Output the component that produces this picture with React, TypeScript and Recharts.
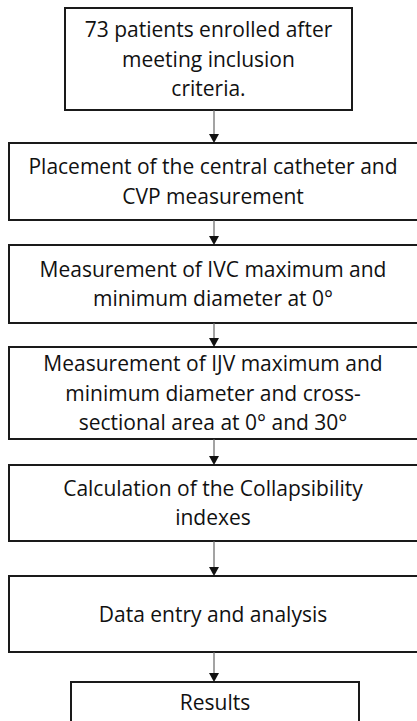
import React from 'react';
import { ComposedChart, XAxis, YAxis, ReferenceArea, ReferenceLine } from 'recharts';

// flowchart steps, top to bottom
const stepLines: string[][] = [
    ['73 patients enrolled after', 'meeting inclusion', 'criteria.'],
    ['Placement of the central catheter and', 'CVP measurement'],
    ['Measurement of IVC maximum and', 'minimum diameter at 0°'],
    ['Measurement of IJV maximum and', 'minimum diameter and cross-', 'sectional area at 0° and 30°'],
    ['Calculation of the Collapsibility', 'indexes'],
    ['Data entry and analysis'],
    ['Results'],
];

// layout of each box in chart units (x left/right, y top/bottom)
const boxLeft = [65, 9, 9, 9, 9, 9, 71];
const boxRight = [352, 417, 417, 417, 417, 417, 359];
const boxTop = [8, 143, 245, 347, 465, 576, 682];
const boxBottom = [110, 220, 323, 439, 541, 652, 721];
// the wide boxes run off the right edge, the last one off the bottom
const openRight = [false, true, true, true, true, true, false];
const openBottom = [false, false, false, false, false, false, true];
const textCenterX = [208.5, 213, 213, 213, 213, 213, 215];
const textCenterY = [59, 181.5, 284, 393, 503, 614, 702];

const W = 417;
const H = 721;
const arrowX = 214;
const lineGap = 29.5;

const StepBox = (props: any) => {
    const { x, y, width, height, lines, noRight, noBottom, tx, ty } = props;
    const r = x + width;
    const b = y + height;
    let d = `M${x},${y} L${r},${y} L${r},${b} L${x},${b} Z`;
    if (noRight) d = `M${r + 2},${y} L${x},${y} L${x},${b} L${r + 2},${b}`;
    if (noBottom) d = `M${x},${b + 2} L${x},${y} L${r},${y} L${r},${b + 2}`;
    const start = ty - ((lines.length - 1) * lineGap) / 2;
    return (
        <g>
            <rect x={x} y={y} width={width} height={height} fill="#fff" />
            <path d={d} fill="none" stroke="#1a1a1a" strokeWidth={2} />
            {lines.map((t: string, i: number) => (
                <text
                    key={i}
                    x={tx}
                    y={start + i * lineGap + 7.5}
                    textAnchor="middle"
                    fontFamily="'Open Sans', sans-serif"
                    fontSize={21}
                    fill="#111"
                >
                    {t}
                </text>
            ))}
        </g>
    );
};

const Arrow = (props: any) => {
    const { x1, y1, x2, y2 } = props;
    return (
        <g>
            <line x1={x1} y1={y1} x2={x2} y2={y2 - 6} stroke="#666" strokeWidth={1.2} />
            <polygon points={`${x2 - 5},${y2 - 9} ${x2 + 5},${y2 - 9} ${x2},${y2}`} fill="#111" />
        </g>
    );
};

export default function App() {
    return (
        <div style={{ position: 'fixed', left: 0, top: 0, width: W, height: H, background: '#fff' }}>
            <ComposedChart width={W} height={H} data={[]} margin={{ top: 0, right: 0, bottom: 0, left: 0 }}>
                <XAxis type="number" dataKey="x" domain={[0, W]} hide allowDataOverflow />
                <YAxis type="number" dataKey="y" domain={[0, H]} reversed hide allowDataOverflow />
                {stepLines.slice(1).map((_, i) => (
                    <ReferenceLine
                        key={'a' + i}
                        segment={[
                            { x: arrowX, y: boxBottom[i] },
                            { x: arrowX, y: boxTop[i + 1] },
                        ]}
                        ifOverflow="visible"
                        shape={(p: any) => <Arrow {...p} />}
                    />
                ))}
                {stepLines.map((lines, i) => (
                    <ReferenceArea
                        key={'b' + i}
                        x1={boxLeft[i]}
                        x2={boxRight[i]}
                        y1={boxTop[i]}
                        y2={boxBottom[i]}
                        ifOverflow="visible"
                        shape={(p: any) => (
                            <StepBox
                                {...p}
                                lines={lines}
                                noRight={openRight[i]}
                                noBottom={openBottom[i]}
                                tx={textCenterX[i]}
                                ty={textCenterY[i]}
                            />
                        )}
                    />
                ))}
            </ComposedChart>
        </div>
    );
}
